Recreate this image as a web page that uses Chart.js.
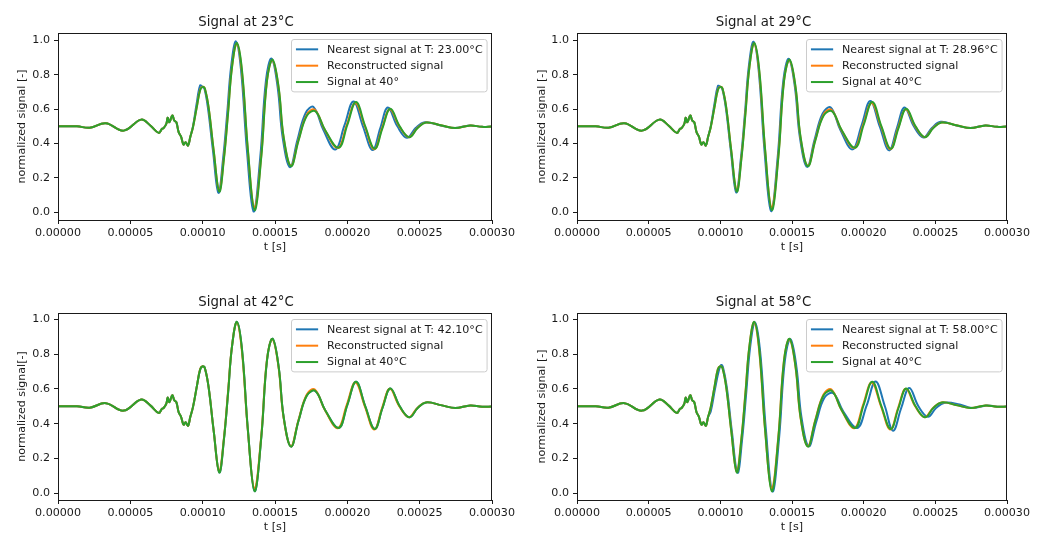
<!DOCTYPE html>
<html>
<head>
<meta charset="utf-8">
<script src="https://cdn.jsdelivr.net/npm/chart.js@4.4.1/dist/chart.umd.min.js"></script>
<style>
  html, body { margin: 0; padding: 0; background: #fff; overflow: hidden; width: 1047px; height: 533px; }
  canvas { position: absolute; }
</style>
</head>
<body>
<canvas id="panel23" width="520" height="260" style="left:0px;top:0px"></canvas>
<canvas id="panel29" width="527" height="260" style="left:520px;top:0px"></canvas>
<canvas id="panel42" width="520" height="260" style="left:0px;top:280px"></canvas>
<canvas id="panel58" width="527" height="260" style="left:520px;top:280px"></canvas>
<script>
// axis ticks
const xTicks = [0, 0.00005, 0.0001, 0.00015, 0.0002, 0.00025, 0.0003];
const xTickLabels = ["0.00000", "0.00005", "0.00010", "0.00015", "0.00020", "0.00025", "0.00030"];
const yTicks = [0, 0.2, 0.4, 0.6, 0.8, 1.0];
const yTickLabels = ["0.0", "0.2", "0.4", "0.6", "0.8", "1.0"];

// [t (s), normalized signal] -- leading part, identical for all curves
const signalEarly = [
  [0, 0.5], [0.0000131, 0.5], [0.000022, 0.492], [0.000033, 0.518], [0.0000454, 0.475],
  [0.0000575, 0.539], [0.0000638, 0.505], [0.0000696, 0.462], [0.0000719, 0.486], [0.000073, 0.49],
  [0.0000749, 0.515], [0.0000758, 0.55], [0.000077, 0.524], [0.000079, 0.563], [0.0000804, 0.534],
  [0.0000818, 0.524], [0.0000834, 0.466], [0.000085, 0.441], [0.0000868, 0.394], [0.0000882, 0.408],
  [0.0000899, 0.388], [0.0000914, 0.437]
];

// signal at 40°C
const signal40Main = [
  [0.0000933, 0.495], [0.0000961, 0.62], [0.0000983, 0.712], [0.0001, 0.73], [0.0001015, 0.72],
  [0.0001041, 0.61], [0.0001076, 0.36], [0.0001115, 0.12], [0.0001147, 0.31], [0.0001176, 0.58],
  [0.0001203, 0.845], [0.0001237, 0.985], [0.0001272, 0.825], [0.0001313, 0.36], [0.0001359, 0.012],
  [0.0001405, 0.32], [0.0001445, 0.767], [0.0001483, 0.888], [0.0001525, 0.728], [0.000156, 0.437],
  [0.0001611, 0.268]
];
const signal40Tail = [
  [0.0001663, 0.418], [0.0001721, 0.563], [0.0001779, 0.588], [0.0001848, 0.476], [0.000194, 0.375],
  [0.0002, 0.508], [0.000206, 0.641], [0.0002124, 0.5], [0.0002189, 0.369], [0.0002243, 0.49],
  [0.0002297, 0.602], [0.0002362, 0.5], [0.0002428, 0.437], [0.0002486, 0.49], [0.0002544, 0.522],
  [0.0002654, 0.505], [0.0002746, 0.49], [0.000285, 0.505], [0.0002931, 0.497], [0.0003, 0.499]
];

// reconstructed signal
const reconMain = [
  [0.0000933, 0.495], [0.0000961, 0.62], [0.0000983, 0.715], [0.0001, 0.73], [0.0001015, 0.72],
  [0.0001041, 0.61], [0.0001076, 0.36], [0.0001114, 0.125], [0.0001146, 0.31], [0.0001175, 0.58],
  [0.0001202, 0.84], [0.0001236, 0.982], [0.0001271, 0.82], [0.0001312, 0.365], [0.0001358, 0.025],
  [0.0001404, 0.32], [0.0001444, 0.765], [0.0001482, 0.885], [0.0001524, 0.728], [0.0001559, 0.437],
  [0.000161, 0.27]
];
const reconTail = [
  [0.0001662, 0.42], [0.000172, 0.568], [0.0001775, 0.596], [0.0001845, 0.478], [0.0001935, 0.374],
  [0.0001996, 0.508], [0.0002056, 0.636], [0.0002121, 0.5], [0.0002186, 0.366], [0.000224, 0.49],
  [0.0002294, 0.6], [0.0002359, 0.5], [0.0002425, 0.437], [0.0002484, 0.49], [0.0002542, 0.522],
  [0.0002654, 0.505], [0.0002746, 0.49], [0.000285, 0.505], [0.0002931, 0.497], [0.0003, 0.499]
];

// nearest measured signals
const nearest23 = [
  [0.0000933, 0.5], [0.0000958, 0.63], [0.0000982, 0.738], [0.0000998, 0.73], [0.0001012, 0.72],
  [0.0001036, 0.61], [0.0001071, 0.36], [0.0001109, 0.113], [0.0001141, 0.31], [0.000117, 0.58],
  [0.0001197, 0.85], [0.000123, 0.995], [0.0001265, 0.83], [0.0001306, 0.36], [0.0001352, 0.004],
  [0.0001398, 0.32], [0.0001438, 0.77], [0.0001476, 0.895], [0.0001518, 0.73], [0.0001553, 0.435],
  [0.0001604, 0.262], [0.0001655, 0.42], [0.0001712, 0.578], [0.0001767, 0.612], [0.0001834, 0.48],
  [0.0001917, 0.365], [0.000198, 0.505], [0.0002043, 0.645], [0.0002108, 0.5], [0.0002175, 0.362],
  [0.0002228, 0.49], [0.000228, 0.61], [0.0002346, 0.5], [0.0002412, 0.433], [0.0002472, 0.49],
  [0.0002535, 0.524], [0.0002645, 0.505], [0.000274, 0.49], [0.0002845, 0.505], [0.0002931, 0.497],
  [0.0003, 0.499]
];
const nearest29 = [
  [0.0000933, 0.5], [0.0000959, 0.63], [0.0000983, 0.735], [0.0000999, 0.73], [0.0001013, 0.72],
  [0.0001038, 0.61], [0.0001073, 0.36], [0.0001111, 0.115], [0.0001143, 0.31], [0.0001172, 0.58],
  [0.0001199, 0.85], [0.0001232, 0.993], [0.0001267, 0.83], [0.0001308, 0.36], [0.0001354, 0.006],
  [0.00014, 0.32], [0.000144, 0.77], [0.0001478, 0.893], [0.000152, 0.73], [0.0001555, 0.436],
  [0.0001606, 0.264], [0.0001657, 0.42], [0.0001714, 0.575], [0.000177, 0.61], [0.0001837, 0.48],
  [0.0001922, 0.366], [0.0001985, 0.505], [0.0002047, 0.648], [0.0002112, 0.5], [0.0002178, 0.36],
  [0.0002232, 0.49], [0.0002285, 0.61], [0.000235, 0.5], [0.0002416, 0.435], [0.0002476, 0.49],
  [0.0002537, 0.526], [0.0002648, 0.505], [0.0002742, 0.49], [0.0002847, 0.505], [0.0002931, 0.497],
  [0.0003, 0.499]
];
const nearest58 = [
  [0.0000933, 0.47], [0.0000963, 0.6], [0.0000988, 0.7], [0.0001005, 0.737], [0.0001018, 0.725],
  [0.0001045, 0.61], [0.000108, 0.36], [0.000112, 0.118], [0.0001152, 0.31], [0.0001181, 0.58],
  [0.0001208, 0.84], [0.0001242, 0.982], [0.0001277, 0.82], [0.0001318, 0.365], [0.0001364, 0.01],
  [0.000141, 0.32], [0.000145, 0.76], [0.0001489, 0.885], [0.0001531, 0.725], [0.0001566, 0.437],
  [0.0001617, 0.27], [0.0001669, 0.41], [0.0001727, 0.55], [0.0001788, 0.575], [0.0001858, 0.47],
  [0.0001955, 0.375], [0.0002021, 0.505], [0.0002083, 0.642], [0.0002148, 0.5], [0.0002205, 0.36],
  [0.0002262, 0.49], [0.0002318, 0.605], [0.0002382, 0.5], [0.0002448, 0.44], [0.0002505, 0.49],
  [0.0002565, 0.52], [0.000267, 0.51], [0.0002755, 0.49], [0.000286, 0.505], [0.0002935, 0.497],
  [0.0003, 0.499]
];

const BLUE = "#1f77b4";
const ORANGE = "#ff7f0e";
const GREEN = "#2ca02c";
const INK = "#1a1a1a";
const FONT = "DejaVu Sans";

Chart.defaults.font.family = FONT;
Chart.defaults.color = INK;

const toPoints = (rows) => rows.map(([x, y]) => ({ x, y }));

// top/right spines plus the framed legend in the upper right corner
const frameAndLegend = {
  id: "frameAndLegend",
  afterDatasetsDraw(chart) {
    const { ctx, chartArea: a } = chart;
    ctx.save();
    ctx.strokeStyle = INK;
    ctx.lineWidth = 1;
    ctx.strokeRect(Math.round(a.left) + 0.5, Math.round(a.top) + 0.5,
      Math.round(a.right - a.left) - 1, Math.round(a.bottom - a.top));
    ctx.restore();
  },
  afterDraw(chart) {
    const { ctx, chartArea: a } = chart;
    const fs = 11.1;
    const pad = 0.4 * fs, handle = 2 * fs, gap = 0.8 * fs, rowH = 10.8, spacing = 0.5 * fs;
    const items = chart.data.datasets;
    ctx.save();
    ctx.font = `${fs}px "${FONT}"`;
    const textW = Math.max(...items.map((d) => ctx.measureText(d.label).width));
    const w = pad * 2 + handle + gap + textW;
    const h = pad * 2 + rowH * items.length + spacing * (items.length - 1);
    const x = Math.round(a.right - 0.5 * fs - w) + 0.5;
    const y = Math.round(a.top + 0.5 * fs) + 0.5;
    ctx.beginPath();
    ctx.roundRect(x, y, w, h, 2.5);
    ctx.fillStyle = "rgba(255,255,255,0.8)";
    ctx.fill();
    ctx.strokeStyle = "#cccccc";
    ctx.lineWidth = 1;
    ctx.stroke();
    ctx.textBaseline = "middle";
    ctx.textAlign = "left";
    items.forEach((d, i) => {
      const cy = y + pad + rowH / 2 + i * (rowH + spacing);
      ctx.beginPath();
      ctx.moveTo(x + pad, cy);
      ctx.lineTo(x + pad + handle, cy);
      ctx.strokeStyle = d.borderColor;
      ctx.lineWidth = 2;
      ctx.stroke();
      ctx.fillStyle = INK;
      ctx.fillText(d.label, x + pad + handle + gap, cy + 0.5);
    });
    ctx.restore();
  }
};

function makePanel(id, p) {
  const line = (label, rows, color, order) => ({
    label,
    data: toPoints(rows),
    borderColor: color,
    backgroundColor: color,
    borderWidth: 2,
    pointRadius: 0,
    tension: 0.4,
    order
  });

  return new Chart(document.getElementById(id), {
    type: "line",
    data: {
      datasets: [
        line(p.nearestLabel, p.nearest, BLUE, 3),
        line("Reconstructed signal", p.recon, ORANGE, 2),
        line(p.signalLabel, p.signal, GREEN, 1)
      ]
    },
    options: {
      responsive: false,
      animation: false,
      devicePixelRatio: 1,
      layout: { padding: { left: 0, right: p.padRight, top: 0, bottom: 0 } },
      plugins: {
        legend: { display: false },
        tooltip: { enabled: false },
        title: {
          display: true,
          text: p.title,
          color: INK,
          font: { size: 13.3, weight: "normal" },
          padding: { top: 15, bottom: 2 }
        }
      },
      scales: {
        x: {
          type: "linear",
          min: 0,
          max: 0.0003,
          afterBuildTicks: (s) => { s.ticks = xTicks.map((value) => ({ value })); },
          afterFit: (s) => { s.height = 40; s.paddingLeft = 0; s.paddingRight = 0; },
          ticks: {
            autoSkip: false,
            maxRotation: 0,
            padding: 2,
            color: INK,
            font: { size: 11.1 },
            callback: (v, i) => xTickLabels[i]
          },
          grid: { drawOnChartArea: false, drawTicks: true, tickLength: 4, color: INK, lineWidth: 1 },
          border: { display: false },
          title: { display: true, text: "t [s]", color: INK, font: { size: 11.1 }, padding: { top: 0, bottom: 6 } }
        },
        y: {
          min: p.yMin,
          max: p.yMax,
          afterBuildTicks: (s) => { s.ticks = yTicks.map((value) => ({ value })); },
          afterFit: (s) => { s.width = p.yAxisWidth; s.paddingTop = 0; s.paddingBottom = 0; },
          ticks: {
            autoSkip: false,
            padding: 4,
            color: INK,
            font: { size: 11.1 },
            callback: (v, i) => yTickLabels[i]
          },
          grid: { drawOnChartArea: false, drawTicks: true, tickLength: 4, color: INK, lineWidth: 1 },
          border: { display: false },
          title: { display: true, text: p.yLabel, color: INK, font: { size: 11.1 }, padding: { top: 15, bottom: 0 } }
        }
      }
    },
    plugins: [frameAndLegend]
  });
}

makePanel("panel23", {
  title: "Signal at 23°C",
  yLabel: "normalized signal [-]",
  nearestLabel: "Nearest signal at T: 23.00°C",
  signalLabel: "Signal at 40°",
  nearest: [...signalEarly, ...nearest23],
  recon: [...signalEarly, ...reconMain, ...reconTail],
  signal: [...signalEarly, ...signal40Main, ...signal40Tail],
  yMin: -0.0454, yMax: 1.0437, yAxisWidth: 58, padRight: 28
});

makePanel("panel29", {
  title: "Signal at 29°C",
  yLabel: "normalized signal [-]",
  nearestLabel: "Nearest signal at T: 28.96°C",
  signalLabel: "Signal at 40°C",
  nearest: [...signalEarly, ...nearest29],
  recon: [...signalEarly, ...reconMain, ...reconTail],
  signal: [...signalEarly, ...signal40Main, ...signal40Tail],
  yMin: -0.0454, yMax: 1.0437, yAxisWidth: 57, padRight: 40
});

makePanel("panel42", {
  title: "Signal at 42°C",
  yLabel: "normalized signal[-]",
  nearestLabel: "Nearest signal at T: 42.10°C",
  signalLabel: "Signal at 40°C",
  nearest: [...signalEarly, ...signal40Main, ...signal40Tail],
  recon: [...signalEarly, ...reconMain, ...reconTail],
  signal: [...signalEarly, ...signal40Main, ...signal40Tail],
  yMin: -0.0385, yMax: 1.036, yAxisWidth: 58, padRight: 28
});

makePanel("panel58", {
  title: "Signal at 58°C",
  yLabel: "normalized signal [-]",
  nearestLabel: "Nearest signal at T: 58.00°C",
  signalLabel: "Signal at 40°C",
  nearest: [...signalEarly, ...nearest58],
  recon: [...signalEarly, ...reconMain, ...reconTail],
  signal: [...signalEarly, ...signal40Main, ...signal40Tail],
  yMin: -0.0385, yMax: 1.036, yAxisWidth: 57, padRight: 40
});
</script>
</body>
</html>
